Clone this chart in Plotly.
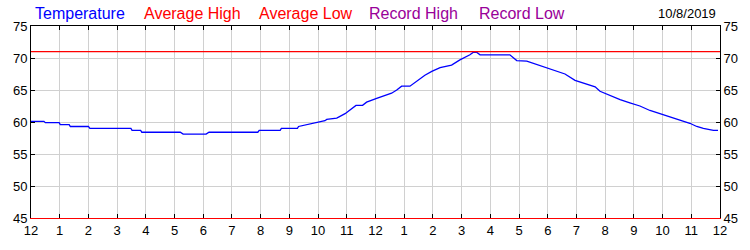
import plotly.graph_objects as go

# Time of day in hours since midnight, and temperature (F)
hours = [0, 0.45, 0.5, 0.98, 1.02, 1.33, 1.37, 2.0, 2.05, 3.48, 3.52, 3.82, 3.86,
         5.2, 5.3, 6.1, 6.2, 7.9, 7.95, 8.68, 8.72, 9.28, 9.32, 9.66, 10.0, 10.24,
         10.3, 10.65, 10.94, 11.17, 11.32, 11.55, 11.69, 12.04, 12.27, 12.56, 12.74,
         12.91, 13.2, 13.43, 13.72, 13.96, 14.25, 14.65, 14.94, 15.29, 15.41, 15.52,
         15.64, 16.68, 16.92, 17.27, 17.55, 17.9, 18.25, 18.6, 18.95, 19.3, 19.65,
         19.82, 20.17, 20.52, 20.86, 21.21, 21.56, 21.91, 22.26, 22.6, 22.95, 23.19,
         23.42, 23.77, 23.93]
temps = [60.1, 60.1, 59.9, 59.9, 59.6, 59.6, 59.3, 59.3, 59.0, 59.0, 58.7, 58.7, 58.4,
         58.4, 58.1, 58.1, 58.4, 58.4, 58.7, 58.7, 59.0, 59.0, 59.3, 59.6, 60.0, 60.2,
         60.4, 60.6, 61.3, 62.1, 62.6, 62.6, 63.1, 63.7, 64.0, 64.5, 65.0,
         65.6, 65.6, 66.4, 67.3, 67.9, 68.5, 68.9, 69.7, 70.5, 70.9, 70.9,
         70.5, 70.5, 69.6, 69.5, 69.1, 68.5, 68.0, 67.5, 66.5, 66.0, 65.5,
         64.8, 64.1, 63.5, 63.0, 62.5, 61.8, 61.3, 60.7, 60.2, 59.8, 59.3,
         59.0, 58.7, 58.7]

avg_high = 71
day_hours = [0, 24]

tick_vals = list(range(0, 25))
tick_text = ["12"] + [str(i) for i in range(1, 12)] + ["12"] + [str(i) for i in range(1, 12)] + ["12"]

legend_labels = ["Temperature", "Average High", "Average Low", "Record High", "Record Low"]
legend_colors = ["#0000ff", "#ff0000", "#ff0000", "#990099", "#990099"]
legend_px = [33, 142, 257, 367, 477]
date_label = "10/8/2019"

fig = go.Figure()
fig.add_trace(go.Scatter(x=hours, y=temps, mode="lines",
                         line=dict(color="#0000ff", width=1.3),
                         hoverinfo="skip", showlegend=False))
fig.add_trace(go.Scatter(x=day_hours, y=[avg_high, avg_high], mode="lines",
                         line=dict(color="#ff0000", width=1.3),
                         xaxis="x2", yaxis="y2",
                         hoverinfo="skip", showlegend=False))

L, R, T, B = 31, 30, 26, 25
W, H = 750, 250
pw, ph = W - L - R, H - T - B

font = "Liberation Sans, Arial, sans-serif"
axis_common = dict(showgrid=True, gridcolor="#d0d0d0", gridwidth=1,
                   ticks="inside", ticklen=4, tickcolor="#000000", tickwidth=1,
                   zeroline=False, fixedrange=True,
                   tickfont=dict(family=font, size=13, color="#000000"))

fig.update_layout(
    width=W, height=H,
    margin=dict(l=L, r=R, t=T, b=B, pad=0),
    paper_bgcolor="#ffffff", plot_bgcolor="#ffffff",
    showlegend=False,
    xaxis=dict(range=[0, 24], tickmode="array", tickvals=tick_vals, ticktext=tick_text,
               showline=True, linecolor="#ff0000", linewidth=1, **axis_common),
    xaxis2=dict(range=[0, 24], overlaying="x", side="top", tickmode="array",
                tickvals=tick_vals, showticklabels=False, showline=True,
                linecolor="#000000", linewidth=1, showgrid=False,
                ticks="inside", ticklen=4, tickcolor="#000000", zeroline=False),
    yaxis=dict(range=[45, 75], dtick=5, tick0=45, showline=True, linecolor="#000000",
               linewidth=1, **axis_common),
    yaxis2=dict(range=[45, 75], dtick=5, tick0=45, overlaying="y", side="right",
                showline=True, linecolor="#000000", linewidth=1, showgrid=False,
                ticks="inside", ticklen=4, tickcolor="#000000", zeroline=False,
                tickfont=dict(family=font, size=13, color="#000000")),
)

for lab, col, px in zip(legend_labels, legend_colors, legend_px):
    fig.add_annotation(text=lab, xref="paper", yref="paper",
                       x=(px - L) / pw, y=(H - B - 13) / ph,
                       xanchor="left", yanchor="middle", showarrow=False,
                       font=dict(family=font, size=16, color=col))
fig.add_annotation(text=date_label, xref="paper", yref="paper",
                   x=(718 - L) / pw, y=(H - B - 13) / ph,
                   xanchor="right", yanchor="middle", showarrow=False,
                   font=dict(family=font, size=13, color="#000000"))

fig.write_html("out.html")
